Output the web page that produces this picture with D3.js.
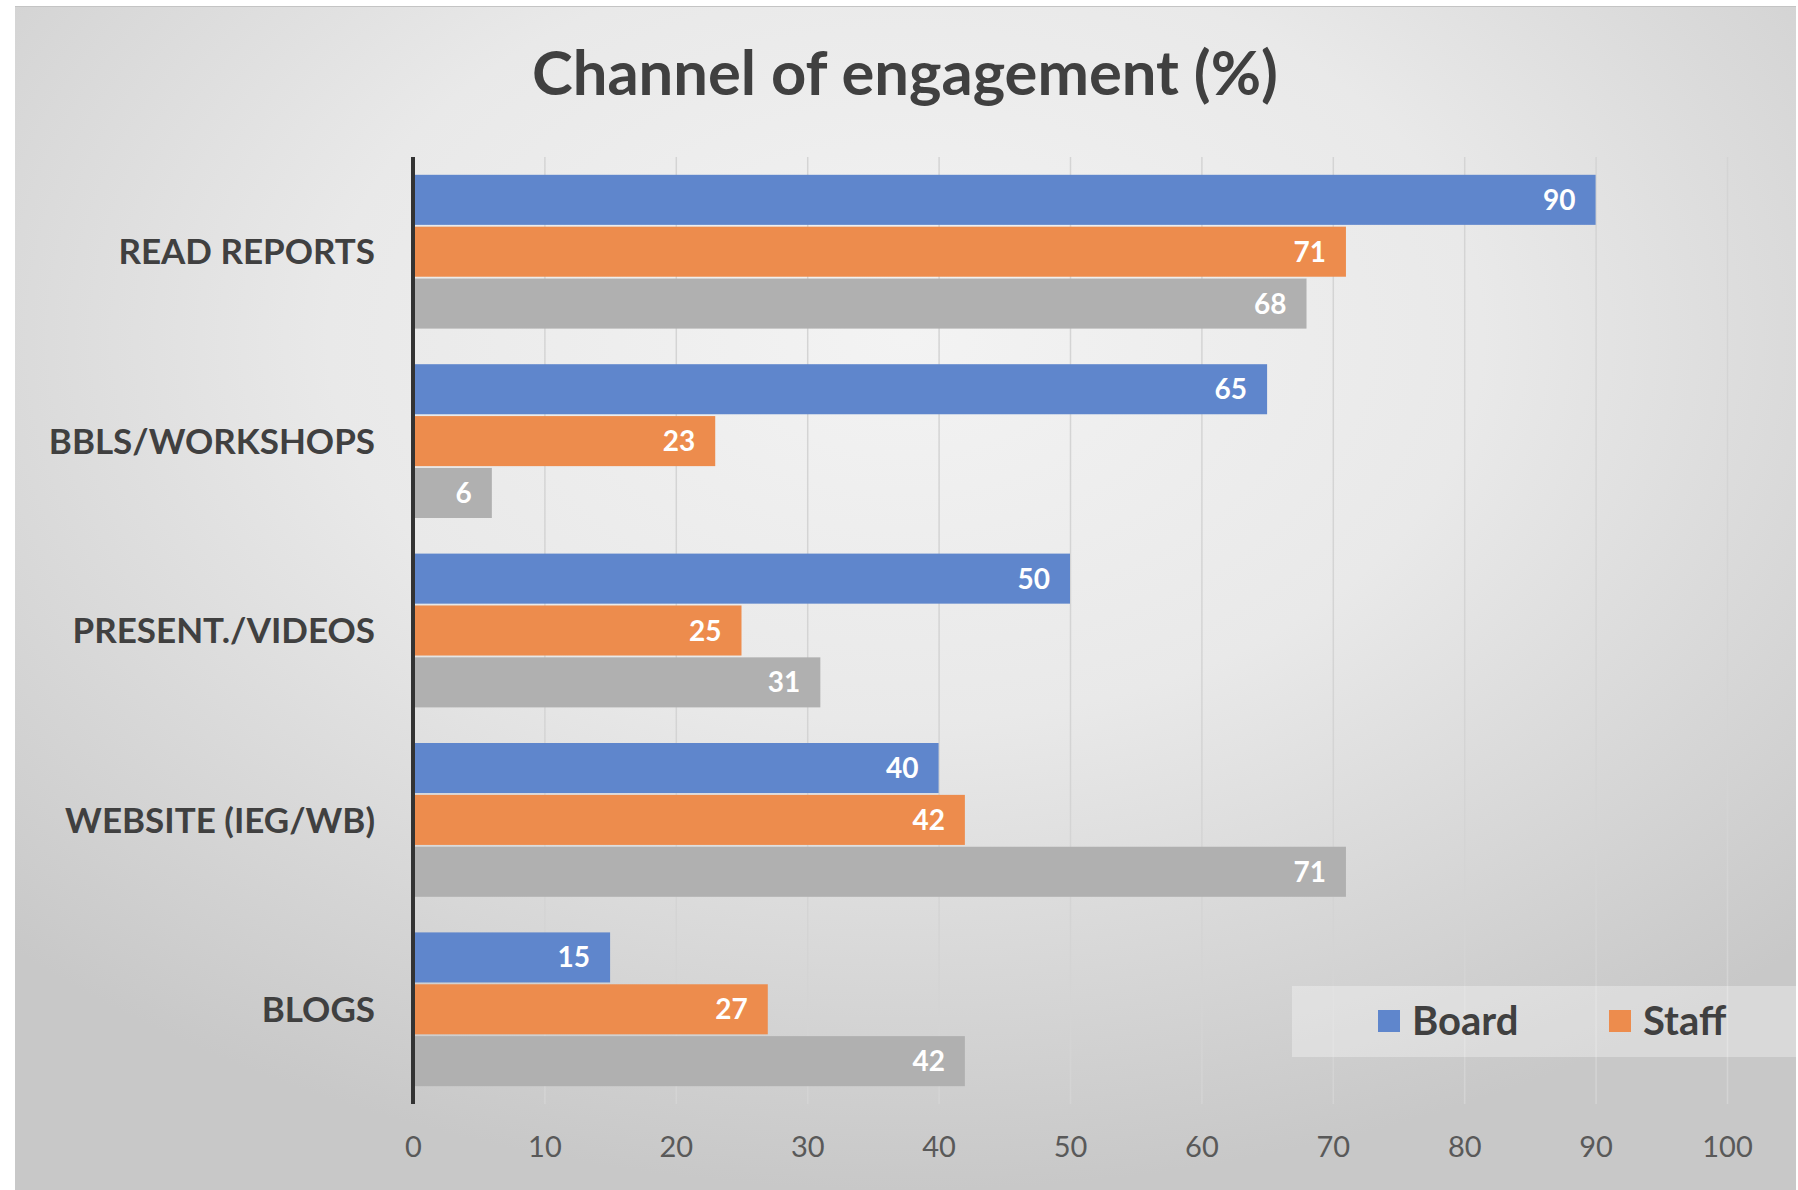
<!DOCTYPE html>
<html>
<head>
<meta charset="utf-8">
<script src="https://cdn.jsdelivr.net/npm/d3@7"></script>
<style>
  html, body { margin: 0; padding: 0; background: #ffffff; }
  svg { display: block; }
  text { font-family: Lato, "Open Sans", sans-serif; }
</style>
</head>
<body>
<svg id="chart" width="1798" height="1190"></svg>
<script>
// Engagement channels and the share (%) of each group using them
const categories = ["READ REPORTS", "BBLS/WORKSHOPS", "PRESENT./VIDEOS", "WEBSITE (IEG/WB)", "BLOGS"];
const seriesNames = ["Board", "Staff", "Other"];
const boardValues = [90, 65, 50, 40, 15];
const staffValues = [71, 23, 25, 42, 27];
const otherValues = [68, 6, 31, 71, 42];
const xTicks = [0, 10, 20, 30, 40, 50, 60, 70, 80, 90, 100];
const legendNames = ["Board", "Staff"];
const titleText = "Channel of engagement (%)";

const seriesValues = [boardValues, staffValues, otherValues];
const colors = { Board: "#5f86cc", Staff: "#ed8c4d", Other: "#b0b0b0" };

const W = 1798, H = 1190;
const svg = d3.select("#chart");
const defs = svg.append("defs");

// Soft radial backdrop of the chart card
const bg = defs.append("radialGradient")
  .attr("id", "bgGrad")
  .attr("cx", 0.5).attr("cy", 0.28).attr("r", 0.72);
bg.append("stop").attr("offset", 0).attr("stop-color", "#f3f3f3");
bg.append("stop").attr("offset", 0.45).attr("stop-color", "#e9e9e9");
bg.append("stop").attr("offset", 1).attr("stop-color", "#c8c8c8");

const card = { x: 15, y: 6, w: 1781, h: 1190 - 6 };
svg.append("rect")
  .attr("x", card.x).attr("y", card.y)
  .attr("width", card.w).attr("height", card.h)
  .attr("fill", "url(#bgGrad)");
svg.append("line")
  .attr("x1", card.x).attr("x2", card.x + card.w)
  .attr("y1", card.y + 0.5).attr("y2", card.y + 0.5)
  .attr("stroke", "#c4c4c4").attr("stroke-width", 1);

const plot = { left: 413, right: 1727, top: 157, bottom: 1104 };

const x = d3.scaleLinear().domain([0, 100]).range([plot.left, plot.right]);
const y = d3.scaleBand().domain(categories)
  .range([plot.top, plot.bottom])
  .paddingInner(0.188).paddingOuter(0.094);
const yInner = d3.scaleBand().domain(seriesNames)
  .range([0, y.bandwidth()]).paddingInner(0.035);

// Gridlines get darker toward the bottom, following the backdrop
const gridGrad = defs.append("linearGradient")
  .attr("id", "gridGrad").attr("gradientUnits", "userSpaceOnUse")
  .attr("x1", 0).attr("x2", 0).attr("y1", plot.top).attr("y2", plot.bottom);
gridGrad.append("stop").attr("offset", 0).attr("stop-color", "#d4d4d4");
gridGrad.append("stop").attr("offset", 0.5).attr("stop-color", "#c4c4c4");
gridGrad.append("stop").attr("offset", 1).attr("stop-color", "#8e8e8e");

const xAxis = d3.axisBottom(x)
  .tickValues(xTicks)
  .tickSize(-(plot.bottom - plot.top))
  .tickPadding(30)
  .tickFormat(d3.format("d"));

const gx = svg.append("g")
  .attr("transform", `translate(0,${plot.bottom})`)
  .call(xAxis);
gx.select(".domain").remove();
gx.selectAll(".tick line")
  .attr("stroke", "url(#gridGrad)")
  .attr("stroke-width", 1.5)
  .filter(d => d === 0).remove();
gx.selectAll(".tick text")
  .attr("fill", "#595959")
  .attr("font-size", 29)
  .attr("dy", "0.35em")
  .attr("y", 43);

// Bars
const groups = svg.append("g").selectAll("g")
  .data(categories)
  .join("g")
  .attr("transform", d => `translate(0,${y(d)})`);

const cells = groups.selectAll("g.cell")
  .data((c, i) => seriesNames.map((s, j) => ({ cat: c, series: s, value: seriesValues[j][i] })))
  .join("g").attr("class", "cell");

cells.append("rect")
  .attr("x", x(0))
  .attr("y", d => yInner(d.series))
  .attr("width", d => x(d.value) - x(0))
  .attr("height", yInner.bandwidth())
  .attr("fill", d => colors[d.series]);

cells.append("text")
  .attr("x", d => x(d.value) - 20)
  .attr("y", d => yInner(d.series) + yInner.bandwidth() / 2)
  .attr("dy", "0.36em")
  .attr("text-anchor", "end")
  .attr("fill", "#ffffff")
  .attr("font-weight", 700)
  .attr("font-size", 28)
  .text(d => d.value);

// Category axis
const yAxis = d3.axisLeft(y).tickSize(0).tickPadding(38);
const gy = svg.append("g")
  .attr("transform", `translate(${plot.left},0)`)
  .call(yAxis);
gy.select(".domain").remove();
gy.selectAll(".tick text")
  .attr("fill", "#404040")
  .attr("font-weight", 700)
  .attr("font-size", 35)
  .attr("dy", "0.36em");

svg.append("line")
  .attr("x1", x(0)).attr("x2", x(0))
  .attr("y1", plot.top).attr("y2", plot.bottom)
  .attr("stroke", "#333333").attr("stroke-width", 4);

// Title
svg.append("text")
  .attr("x", 905).attr("y", 95)
  .attr("text-anchor", "middle")
  .attr("fill", "#404040")
  .attr("font-weight", 700)
  .attr("font-size", 61.5)
  .text(titleText);

// Legend
const legend = svg.append("g");
legend.append("rect")
  .attr("x", 1292).attr("y", 986)
  .attr("width", 504).attr("height", 71)
  .attr("fill", "#ffffff").attr("fill-opacity", 0.32);

const legendX = d3.scalePoint().domain(legendNames).range([1378, 1609]);
const items = legend.selectAll("g.item")
  .data(legendNames)
  .join("g").attr("class", "item")
  .attr("transform", d => `translate(${legendX(d)},1021)`);
items.append("rect")
  .attr("x", 0).attr("y", -11)
  .attr("width", 22).attr("height", 22)
  .attr("fill", d => colors[d]);
items.append("text")
  .attr("x", 34).attr("y", 0)
  .attr("dy", "0.36em")
  .attr("fill", "#404040")
  .attr("font-weight", 700)
  .attr("font-size", 40)
  .text(d => d);
</script>
</body>
</html>
